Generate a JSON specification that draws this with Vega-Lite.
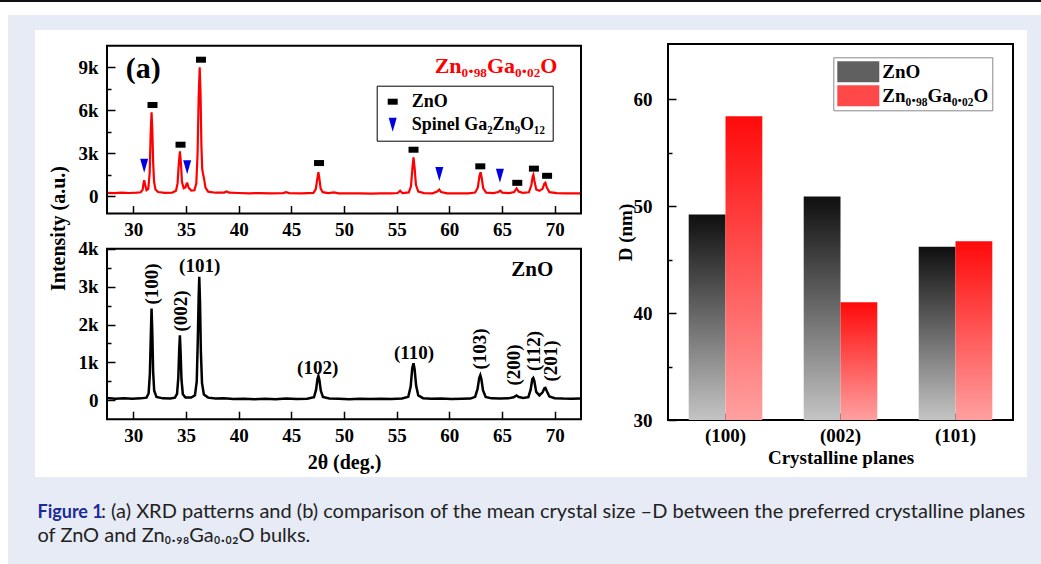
{
"$schema": "https://vega.github.io/schema/vega-lite/v6.json",
"padding": 0,
"background": "#ffffff",
"spacing": 0,
"columns": 8,
"align": "none",
"bounds": "flush",
"resolve": {"scale": {"color": "independent", "shape": "independent"}, "legend": {"color": "independent", "shape": "independent"}},
"datasets": {
"red": [{"t":27.5,"I":240},{"t":28.2,"I":220},{"t":28.9,"I":250},{"t":29.6,"I":230},{"t":30.3,"I":250},{"t":30.7,"I":280},{"t":30.88,"I":450},{"t":30.97,"I":900},{"t":31.03,"I":1130},{"t":31.12,"I":800},{"t":31.25,"I":430},{"t":31.42,"I":520},{"t":31.55,"I":1600},{"t":31.64,"I":4200},{"t":31.73,"I":5860},{"t":31.8,"I":4700},{"t":31.88,"I":2400},{"t":31.97,"I":1000},{"t":32.1,"I":480},{"t":32.35,"I":300},{"t":33.0,"I":240},{"t":33.7,"I":260},{"t":34.05,"I":380},{"t":34.2,"I":900},{"t":34.3,"I":2100},{"t":34.42,"I":3140},{"t":34.52,"I":2300},{"t":34.62,"I":1000},{"t":34.78,"I":560},{"t":34.95,"I":620},{"t":35.06,"I":880},{"t":35.13,"I":900},{"t":35.25,"I":600},{"t":35.5,"I":400},{"t":35.8,"I":420},{"t":35.98,"I":900},{"t":36.1,"I":3000},{"t":36.2,"I":6800},{"t":36.3,"I":9000},{"t":36.38,"I":7200},{"t":36.46,"I":3600},{"t":36.54,"I":1900},{"t":36.62,"I":1560},{"t":36.72,"I":1200},{"t":36.85,"I":600},{"t":37.1,"I":320},{"t":37.8,"I":250},{"t":38.6,"I":260},{"t":38.86,"I":340},{"t":39.1,"I":250},{"t":40.0,"I":230},{"t":41.0,"I":210},{"t":42.0,"I":220},{"t":43.0,"I":200},{"t":44.2,"I":220},{"t":44.5,"I":290},{"t":44.8,"I":220},{"t":46.0,"I":200},{"t":47.1,"I":240},{"t":47.32,"I":500},{"t":47.46,"I":1200},{"t":47.57,"I":1680},{"t":47.66,"I":1250},{"t":47.78,"I":550},{"t":47.98,"I":290},{"t":48.5,"I":220},{"t":49.06,"I":270},{"t":49.5,"I":210},{"t":50.5,"I":200},{"t":51.5,"I":210},{"t":52.5,"I":190},{"t":53.5,"I":200},{"t":54.5,"I":200},{"t":55.1,"I":230},{"t":55.33,"I":390},{"t":55.55,"I":220},{"t":56.15,"I":270},{"t":56.36,"I":700},{"t":56.5,"I":2000},{"t":56.6,"I":2720},{"t":56.7,"I":2000},{"t":56.83,"I":800},{"t":57.05,"I":330},{"t":57.6,"I":220},{"t":58.4,"I":210},{"t":58.85,"I":330},{"t":59.04,"I":460},{"t":59.22,"I":300},{"t":59.8,"I":210},{"t":60.8,"I":200},{"t":61.8,"I":210},{"t":62.45,"I":260},{"t":62.7,"I":600},{"t":62.87,"I":1450},{"t":62.97,"I":1680},{"t":63.07,"I":1300},{"t":63.22,"I":550},{"t":63.5,"I":260},{"t":64.2,"I":220},{"t":64.65,"I":300},{"t":64.84,"I":390},{"t":65.02,"I":260},{"t":65.7,"I":220},{"t":66.15,"I":300},{"t":66.38,"I":550},{"t":66.58,"I":330},{"t":66.95,"I":240},{"t":67.55,"I":280},{"t":67.78,"I":750},{"t":67.92,"I":1400},{"t":67.98,"I":1500},{"t":68.07,"I":1100},{"t":68.25,"I":480},{"t":68.55,"I":380},{"t":68.85,"I":520},{"t":69.02,"I":880},{"t":69.12,"I":950},{"t":69.25,"I":620},{"t":69.5,"I":290},{"t":70.2,"I":220},{"t":71.0,"I":210},{"t":71.8,"I":200},{"t":72.5,"I":210}],
"black": [{"t":27.5,"I":60},{"t":28.3,"I":40},{"t":29.1,"I":55},{"t":29.9,"I":40},{"t":30.7,"I":50},{"t":31.25,"I":70},{"t":31.45,"I":180},{"t":31.57,"I":700},{"t":31.66,"I":1700},{"t":31.73,"I":2420},{"t":31.8,"I":1800},{"t":31.88,"I":750},{"t":31.98,"I":250},{"t":32.2,"I":90},{"t":32.8,"I":50},{"t":33.5,"I":45},{"t":33.95,"I":70},{"t":34.15,"I":170},{"t":34.27,"I":600},{"t":34.35,"I":1300},{"t":34.42,"I":1716},{"t":34.49,"I":1250},{"t":34.57,"I":550},{"t":34.7,"I":160},{"t":34.95,"I":70},{"t":35.5,"I":70},{"t":35.85,"I":130},{"t":36.02,"I":500},{"t":36.12,"I":1600},{"t":36.2,"I":2700},{"t":36.26,"I":3264},{"t":36.33,"I":2600},{"t":36.41,"I":1300},{"t":36.52,"I":450},{"t":36.7,"I":150},{"t":37.1,"I":70},{"t":37.8,"I":45},{"t":38.6,"I":50},{"t":39.5,"I":35},{"t":40.5,"I":40},{"t":41.5,"I":30},{"t":42.5,"I":40},{"t":43.5,"I":30},{"t":44.5,"I":45},{"t":45.5,"I":35},{"t":46.5,"I":40},{"t":47.15,"I":80},{"t":47.35,"I":280},{"t":47.48,"I":560},{"t":47.57,"I":642},{"t":47.66,"I":540},{"t":47.8,"I":250},{"t":48.0,"I":90},{"t":48.6,"I":45},{"t":49.5,"I":40},{"t":50.5,"I":30},{"t":51.5,"I":40},{"t":52.5,"I":35},{"t":53.5,"I":40},{"t":54.5,"I":35},{"t":55.5,"I":45},{"t":56.1,"I":90},{"t":56.33,"I":360},{"t":56.48,"I":850},{"t":56.6,"I":977},{"t":56.7,"I":830},{"t":56.85,"I":380},{"t":57.05,"I":130},{"t":57.5,"I":55},{"t":58.3,"I":40},{"t":59.2,"I":45},{"t":60.2,"I":35},{"t":61.2,"I":40},{"t":62.0,"I":45},{"t":62.45,"I":90},{"t":62.68,"I":300},{"t":62.84,"I":590},{"t":62.94,"I":660},{"t":63.04,"I":560},{"t":63.2,"I":260},{"t":63.45,"I":90},{"t":64.0,"I":50},{"t":64.8,"I":45},{"t":65.6,"I":50},{"t":66.1,"I":80},{"t":66.38,"I":125},{"t":66.6,"I":85},{"t":67.0,"I":60},{"t":67.5,"I":80},{"t":67.72,"I":280},{"t":67.88,"I":560},{"t":67.97,"I":590},{"t":68.06,"I":520},{"t":68.25,"I":220},{"t":68.55,"I":130},{"t":68.85,"I":210},{"t":69.03,"I":320},{"t":69.12,"I":330},{"t":69.26,"I":240},{"t":69.5,"I":100},{"t":70.0,"I":55},{"t":70.8,"I":45},{"t":71.6,"I":40},{"t":72.5,"I":45}],
"markers": [{"t":31.82,"I":6370,"phase":"ZnO"},{"t":34.48,"I":3600,"phase":"ZnO"},{"t":36.42,"I":9530,"phase":"ZnO"},{"t":47.63,"I":2320,"phase":"ZnO"},{"t":56.6,"I":3250,"phase":"ZnO"},{"t":62.94,"I":2090,"phase":"ZnO"},{"t":66.45,"I":940,"phase":"ZnO"},{"t":68.03,"I":1930,"phase":"ZnO"},{"t":69.28,"I":1430,"phase":"ZnO"},{"t":31.03,"I":2140,"phase":"Spinel Ga₂Zn₉O₁₂"},{"t":35.11,"I":2020,"phase":"Spinel Ga₂Zn₉O₁₂"},{"t":59.05,"I":1560,"phase":"Spinel Ga₂Zn₉O₁₂"},{"t":64.8,"I":1440,"phase":"Spinel Ga₂Zn₉O₁₂"}],
"hkl": [{"t":31.8,"I":3070,"label":"(100)","dir":"v"},{"t":34.5,"I":2360,"label":"(002)","dir":"v"},{"t":36.3,"I":3550,"label":"(101)","dir":"h"},{"t":47.5,"I":860,"label":"(102)","dir":"h"},{"t":56.65,"I":1260,"label":"(110)","dir":"h"},{"t":62.9,"I":1355,"label":"(103)","dir":"v"},{"t":66.17,"I":932,"label":"(200)","dir":"v"},{"t":68.07,"I":1302,"label":"(112)","dir":"v"},{"t":69.69,"I":1038,"label":"(201)","dir":"v"}],
"crystal": [{"plane":"(100)","sample":"ZnO","D":49.2},{"plane":"(100)","sample":"Zn₀.₉₈Ga₀.₀₂O","D":58.4},{"plane":"(002)","sample":"ZnO","D":50.9},{"plane":"(002)","sample":"Zn₀.₉₈Ga₀.₀₂O","D":41.0},{"plane":"(101)","sample":"ZnO","D":46.2},{"plane":"(101)","sample":"Zn₀.₉₈Ga₀.₀₂O","D":46.7}]
},
"concat": [
{"width":8,"height":2,"mark":"point","data":{"values":[]},"view":{"fill":"#111111"}},
{"width":27,"height":2,"mark":"point","data":{"values":[]},"view":{"fill":"#111111"}},
{"width":72,"height":2,"mark":"point","data":{"values":[]},"view":{"fill":"#111111"}},
{"width":474,"height":2,"mark":"point","data":{"values":[]},"view":{"fill":"#111111"}},
{"width":87,"height":2,"mark":"point","data":{"values":[]},"view":{"fill":"#111111"}},
{"width":345,"height":2,"mark":"point","data":{"values":[]},"view":{"fill":"#111111"}},
{"width":14,"height":2,"mark":"point","data":{"values":[]},"view":{"fill":"#111111"}},
{"width":14,"height":2,"mark":"point","data":{"values":[]},"view":{"fill":"#111111"}},

{"width":8,"height":13,"mark":"point","data":{"values":[]}},
{"width":27,"height":13,"mark":"point","data":{"values":[]}},
{"width":72,"height":13,"mark":"point","data":{"values":[]}},
{"width":474,"height":13,"mark":"point","data":{"values":[]}},
{"width":87,"height":13,"mark":"point","data":{"values":[]}},
{"width":345,"height":13,"mark":"point","data":{"values":[]}},
{"width":14,"height":13,"mark":"point","data":{"values":[]}},
{"width":14,"height":13,"mark":"point","data":{"values":[]}},

{"width":8,"height":15,"mark":"point","data":{"values":[]}},
{"width":27,"height":15,"mark":"point","data":{"values":[]},"view":{"fill":"#E7EBF6"}},
{"width":72,"height":15,"mark":"point","data":{"values":[]},"view":{"fill":"#E7EBF6"}},
{"width":474,"height":15,"mark":"point","data":{"values":[]},"view":{"fill":"#E7EBF6"}},
{"width":87,"height":15,"mark":"point","data":{"values":[]},"view":{"fill":"#E7EBF6"}},
{"width":345,"height":15,"mark":"point","data":{"values":[]},"view":{"fill":"#E7EBF6"}},
{"width":14,"height":15,"mark":"point","data":{"values":[]},"view":{"fill":"#E7EBF6"}},
{"width":14,"height":15,"mark":"point","data":{"values":[]},"view":{"fill":"#E7EBF6"}},

{"width":8,"height":14,"mark":"point","data":{"values":[]}},
{"width":27,"height":14,"mark":"point","data":{"values":[]},"view":{"fill":"#E7EBF6"}},
{"width":72,"height":14,"mark":"point","data":{"values":[]}},
{"width":474,"height":14,"mark":"point","data":{"values":[]}},
{"width":87,"height":14,"mark":"point","data":{"values":[]}},
{"width":345,"height":14,"mark":"point","data":{"values":[]}},
{"width":14,"height":14,"mark":"point","data":{"values":[]}},
{"width":14,"height":14,"mark":"point","data":{"values":[]},"view":{"fill":"#E7EBF6"}},

{"width":8,"height":376,"mark":"point","data":{"values":[]}},
{"width":27,"height":376,"mark":"point","data":{"values":[]},"view":{"fill":"#E7EBF6"}},
{"width":72,"height":376,"mark":"point","data":{"values":[]}},
{
 "width": 474, "height": 376,
 "resolve": {"scale": {"x": "independent", "y": "independent"}, "axis": {"x": "independent", "y": "independent"}},
 "layer": [
  {"layer": [
   {"data": {"name": "red"},
    "mark": {"type": "line", "color": "#ff0000", "strokeWidth": 2.2},
    "encoding": {
     "x": {"field": "t", "type": "quantitative", "scale": {"domain": [27.5, 72.5], "nice": false, "zero": false},
      "axis": {"orient": "bottom", "offset": -206.5, "values": [30,32.5,35,37.5,40,42.5,45,47.5,50,52.5,55,57.5,60,62.5,65,67.5,70], "labelExpr": "datum.value % 5 === 0 ? datum.label : ''", "tickSize": {"condition": {"test": "datum.value % 5 === 0", "value": -8}, "value": -4}, "labelPadding": 14.5, "title": null}},
     "y": {"field": "I", "type": "quantitative", "scale": {"domain": [-1200, 10500], "range": [169.5, 1.8], "nice": false, "zero": false},
      "axis": {"orient": "left", "values": [0,1500,3000,4500,6000,7500,9000], "labelExpr": "datum.value === 0 ? '0' : (datum.value % 3000 === 0 ? (datum.value / 1000) + 'k' : '')", "tickSize": {"condition": {"test": "datum.value % 3000 === 0", "value": -8}, "value": -4}, "labelPadding": 17, "title": "Intensity (a.u.)", "titleX": -49, "titleY": 184, "titleAngle": 270, "titleAlign": "center", "titleBaseline": "middle", "titleFontSize": 20}}
    }},
   {"data": {"name": "markers"},
    "mark": {"type": "point", "filled": true, "size": 100, "opacity": 1, "strokeWidth": 0},
    "encoding": {
     "x": {"field": "t", "type": "quantitative"},
     "y": {"field": "I", "type": "quantitative"},
     "shape": {"field": "phase", "type": "nominal", "scale": {"domain": ["ZnO", "Spinel Ga₂Zn₉O₁₂"], "range": ["M-1,-0.6H1V0.6H-1Z", "M-0.8,-1.4H0.8L0,1.4Z"]},
       "legend": {"title": null, "orient": "none", "legendX": 269.7, "legendY": 41.7, "symbolSize": 100, "labelFontSize": 18, "strokeColor": "#000000", "fillColor": "#ffffff", "padding": 7, "rowPadding": 5, "labelOffset": 10}},
     "color": {"field": "phase", "type": "nominal", "scale": {"domain": ["ZnO", "Spinel Ga₂Zn₉O₁₂"], "range": ["#000000", "#0000e0"]},
       "legend": {"title": null, "orient": "none", "legendX": 269.7, "legendY": 41.7, "symbolSize": 100, "labelFontSize": 18, "strokeColor": "#000000", "fillColor": "#ffffff", "padding": 7, "rowPadding": 5, "labelOffset": 10}}
    }},
   {"data": {"values": [{}]}, "mark": {"type": "text", "fontSize": 30, "fontWeight": "bold", "align": "center", "baseline": "middle", "color": "#000000"},
    "encoding": {"x": {"datum": 30.93}, "y": {"datum": 8897}, "text": {"value": "(a)"}}},
   {"data": {"values": [{}]}, "mark": {"type": "text", "fontSize": 22, "fontWeight": "bold", "align": "right", "baseline": "middle", "color": "#ff0000"},
    "encoding": {"x": {"datum": 70.26}, "y": {"datum": 9114}, "text": {"value": "Zn₀.₉₈Ga₀.₀₂O"}}},
   {"data": {"values": [{}]}, "mark": {"type": "rect", "filled": false, "color": "#000000", "strokeWidth": 2},
    "encoding": {"x": {"datum": 27.5}, "x2": {"datum": 72.5}, "y": {"datum": -1200}, "y2": {"datum": 10500}}}
  ]},
  {"layer": [
   {"data": {"name": "black"},
    "mark": {"type": "line", "color": "#000000", "strokeWidth": 2.5},
    "encoding": {
     "x": {"field": "t", "type": "quantitative", "scale": {"domain": [27.5, 72.5], "nice": false, "zero": false},
      "axis": {"orient": "bottom", "offset": -0.8, "values": [30,32.5,35,37.5,40,42.5,45,47.5,50,52.5,55,57.5,60,62.5,65,67.5,70], "labelExpr": "datum.value % 5 === 0 ? datum.label : ''", "tickSize": {"condition": {"test": "datum.value % 5 === 0", "value": -8}, "value": -4}, "labelPadding": 15, "title": "2θ (deg.)", "titleX": 237, "titleY": 42.8, "titleAngle": 0, "titleAlign": "center", "titleBaseline": "middle", "titleFontSize": 20}},
     "y": {"field": "I", "type": "quantitative", "scale": {"domain": [-500, 4000], "range": [375.2, 204.8], "nice": false, "zero": false},
      "axis": {"orient": "left", "values": [0,500,1000,1500,2000,2500,3000,3500,4000], "labelExpr": "datum.value === 0 ? '0' : (datum.value % 1000 === 0 ? (datum.value / 1000) + 'k' : '')", "tickSize": {"condition": {"test": "datum.value % 1000 === 0", "value": -8}, "value": -4}, "labelPadding": 17, "title": null}}
    }},
   {"data": {"name": "hkl"}, "transform": [{"filter": "datum.dir === 'v'"}],
    "mark": {"type": "text", "angle": 270, "fontSize": 19, "fontWeight": "bold", "align": "center", "baseline": "middle", "color": "#000000"},
    "encoding": {"x": {"field": "t", "type": "quantitative"}, "y": {"field": "I", "type": "quantitative"}, "text": {"field": "label"}}},
   {"data": {"name": "hkl"}, "transform": [{"filter": "datum.dir === 'h'"}],
    "mark": {"type": "text", "fontSize": 19, "fontWeight": "bold", "align": "center", "baseline": "middle", "color": "#000000"},
    "encoding": {"x": {"field": "t", "type": "quantitative"}, "y": {"field": "I", "type": "quantitative"}, "text": {"field": "label"}}},
   {"data": {"values": [{}]}, "mark": {"type": "text", "fontSize": 21, "fontWeight": "bold", "align": "center", "baseline": "middle", "color": "#000000"},
    "encoding": {"x": {"datum": 67.88}, "y": {"datum": 3441}, "text": {"value": "ZnO"}}},
   {"data": {"values": [{}]}, "mark": {"type": "rect", "filled": false, "color": "#000000", "strokeWidth": 2},
    "encoding": {"x": {"datum": 27.5}, "x2": {"datum": 72.5}, "y": {"datum": -500}, "y2": {"datum": 4000}}}
  ]}
 ]
},
{"width":87,"height":376,"mark":"point","data":{"values":[]}},
{
 "width": 345, "height": 376,
 "view": {"stroke": "#000000", "strokeWidth": 2},
 "data": {"name": "crystal"},
 "encoding": {
  "x": {"field": "plane", "type": "nominal", "sort": ["(100)", "(002)", "(101)"], "scale": {"domain": ["(100)", "(002)", "(101)"], "paddingInner": 0.36, "paddingOuter": 0.18},
   "axis": {"labelAngle": 0, "tickSize": -7, "labelPadding": 13, "title": "Crystalline planes", "titleX": 172.5, "titleY": 37, "titleBaseline": "middle", "titleAlign": "center", "titleFontSize": 19}},
  "y": {"field": "D", "type": "quantitative", "scale": {"domain": [30, 65.15], "nice": false, "zero": false},
   "axis": {"values": [30,35,40,45,50,55,60], "labelExpr": "datum.value % 10 === 0 ? datum.label : ''", "tickSize": {"condition": {"test": "datum.value % 10 === 0", "value": -8}, "value": -4}, "labelPadding": 24, "title": "D (nm)", "titleX": -42.3, "titleY": 188, "titleAngle": 270, "titleAlign": "center", "titleBaseline": "middle", "titleFontSize": 19}}
 },
 "layer": [
  {"transform": [{"filter": "datum.sample === 'ZnO'"}],
   "mark": {"type": "bar", "clip": true, "color": {"gradient": "linear", "x1": 0, "y1": 0, "x2": 0, "y2": 1, "stops": [{"offset": 0, "color": "#0f0f0f"}, {"offset": 1, "color": "#c4c4c4"}]}},
   "encoding": {"y2": {"datum": 30}, "xOffset": {"field": "sample", "type": "nominal", "scale": {"domain": ["ZnO", "Zn₀.₉₈Ga₀.₀₂O"], "paddingInner": 0, "paddingOuter": 0}}}},
  {"transform": [{"filter": "datum.sample !== 'ZnO'"}],
   "mark": {"type": "bar", "clip": true, "color": {"gradient": "linear", "x1": 0, "y1": 0, "x2": 0, "y2": 1, "stops": [{"offset": 0, "color": "#ff0a0a"}, {"offset": 1, "color": "#ffa0a0"}]}},
   "encoding": {"y2": {"datum": 30}, "xOffset": {"field": "sample", "type": "nominal", "scale": {"domain": ["ZnO", "Zn₀.₉₈Ga₀.₀₂O"], "paddingInner": 0, "paddingOuter": 0}}}},
  {"transform": [{"filter": "false"}],
   "mark": {"type": "bar"},
   "encoding": {"color": {"field": "sample", "type": "nominal", "scale": {"domain": ["ZnO", "Zn₀.₉₈Ga₀.₀₂O"], "range": ["#606060", "#ff4848"]},
     "legend": {"title": null, "orient": "none", "legendX": 165.3, "legendY": 13.3, "symbolType": "M-1,-1H3V1H-1Z", "symbolSize": 441, "symbolStrokeWidth": 0, "labelFontSize": 19, "strokeColor": "#888888", "fillColor": "#ffffff", "padding": 4, "rowPadding": 3, "labelOffset": 24}}}},
  {"data": {"values": [{}]}, "mark": {"type": "text", "fontSize": 30, "fontWeight": "bold", "align": "right", "baseline": "middle", "color": "#000000"},
   "encoding": {"x": {"datum": "(100)"}, "y": {"datum": 62.74}, "text": {"value": "(b)"}}}
 ]
},
{"width":14,"height":376,"mark":"point","data":{"values":[]}},
{"width":14,"height":376,"mark":"point","data":{"values":[]},"view":{"fill":"#E7EBF6"}},

{"width":8,"height":57,"mark":"point","data":{"values":[]}},
{"width":27,"height":57,"mark":"point","data":{"values":[]},"view":{"fill":"#E7EBF6"}},
{"width":72,"height":57,"mark":"point","data":{"values":[]}},
{"width":474,"height":57,"mark":"point","data":{"values":[]}},
{"width":87,"height":57,"mark":"point","data":{"values":[]}},
{"width":345,"height":57,"mark":"point","data":{"values":[]}},
{"width":14,"height":57,"mark":"point","data":{"values":[]}},
{"width":14,"height":57,"mark":"point","data":{"values":[]},"view":{"fill":"#E7EBF6"}},

{"width":8,"height":87,"mark":"point","data":{"values":[]}},
{"width":27,"height":87,"mark":"point","data":{"values":[]},"view":{"fill":"#E7EBF6"}},
{"width":72,"height":87,"mark":"point","data":{"values":[]},"view":{"fill":"#E7EBF6"}},
{"width":474,"height":87,"mark":"point","data":{"values":[]},"view":{"fill":"#E7EBF6"}},
{"width":87,"height":87,"mark":"point","data":{"values":[]},"view":{"fill":"#E7EBF6"}},
{"width":345,"height":87,"mark":"point","data":{"values":[]},"view":{"fill":"#E7EBF6"}},
{"width":14,"height":87,"mark":"point","data":{"values":[]},"view":{"fill":"#E7EBF6"}},
{
 "width": 14, "height": 87,
 "view": {"fill": "#E7EBF6"},
 "resolve": {"scale": {"x": "independent", "y": "independent"}, "axis": {"x": "independent", "y": "independent"}},
 "layer": [
  {"data": {"values": []}, "mark": {"type": "point", "opacity": 0},
   "encoding": {
    "x": {"field": "a", "type": "quantitative", "axis": {"orient": "top", "domain": false, "ticks": false, "labels": false, "grid": false, "title": "Figure 1", "titleX": -990, "titleY": 40, "titleAlign": "left", "titleBaseline": "alphabetic", "titleAngle": 0, "titleColor": "#1C2C96", "titleFont": "Lato", "titleFontSize": 18, "titleFontWeight": "bold"}},
    "y": {"field": "b", "type": "quantitative", "axis": {"orient": "left", "domain": false, "ticks": false, "labels": false, "grid": false, "title": "of ZnO and Zn₀.₉₈Ga₀.₀₂O bulks.", "titleX": -990, "titleY": 64, "titleAlign": "left", "titleBaseline": "alphabetic", "titleAngle": 0, "titleColor": "#222222", "titleFont": "Lato", "titleFontSize": 20, "titleFontWeight": "normal"}}
   }},
  {"data": {"values": []}, "mark": {"type": "point", "opacity": 0},
   "encoding": {
    "x": {"field": "c", "type": "quantitative", "axis": {"orient": "bottom", "domain": false, "ticks": false, "labels": false, "grid": false, "title": ": (a) XRD patterns and (b) comparison of the mean crystal size –D between the preferred crystalline planes", "titleX": -926.5, "titleY": -47, "titleAlign": "left", "titleBaseline": "alphabetic", "titleAngle": 0, "titleColor": "#222222", "titleFont": "Lato", "titleFontSize": 20, "titleFontWeight": "normal"}}
   }}
 ]
}
],
"config": {
 "view": {"stroke": null},
 "font": "Liberation Serif",
 "axis": {"domain": false, "grid": false, "tickColor": "#000000", "tickWidth": 1.5, "labelColor": "#000000", "labelFont": "Liberation Serif", "labelFontSize": 19, "labelFontWeight": "bold", "titleColor": "#000000", "titleFont": "Liberation Serif", "titleFontWeight": "bold", "labelOverlap": false, "labelFlush": false},
 "legend": {"labelFont": "Liberation Serif", "labelFontWeight": "bold", "labelColor": "#000000", "labelLimit": 0},
 "text": {"font": "Liberation Serif", "color": "#000000"}
}
}
